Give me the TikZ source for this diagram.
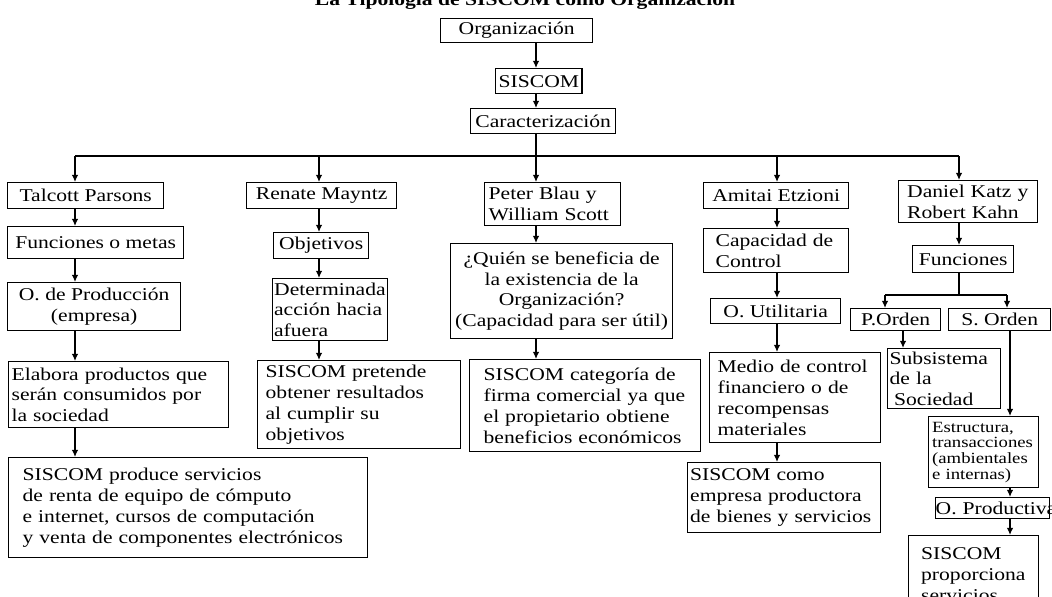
\documentclass[tikz,border=0pt]{standalone}
\usepackage{fontspec}
\setmainfont[FakeStretch=1.2]{Liberation Serif}
\usetikzlibrary{arrows.meta}

\newcommand{\letra}{\fontsize{9}{10.4}\selectfont\hyphenpenalty=10000\exhyphenpenalty=10000}
\newcommand{\letrachica}{\fontsize{7.8}{7.8}\selectfont\hyphenpenalty=10000}

\begin{document}
\begin{tikzpicture}[x=0.5pt,y=-0.5pt,
                every node/.style={font=\letra},
                caja/.style={draw, line width=0.65pt, anchor=north west, inner xsep=1.5pt, inner ysep=1pt, align=center},
                izq/.style={align=left},
                flecha/.style={-{Latex[length=3.6pt,width=3.3pt]}, line width=0.65pt},
                linea/.style={line width=0.65pt}
                ]
                \useasboundingbox (0,0) rectangle (1052,596);
                % titulo (cortado arriba)
                \node[anchor=base, font=\letra\bfseries] (titulo) at (525,5) {La Tipología de SISCOM como Organización};
                % cadena central
                \node[caja, minimum width=76pt, minimum height=12pt] (org) at (440,18) {Organización};
                \node[caja, minimum width=41.5pt, minimum height=12.5pt] (sis) at (495,68) {SISCOM};
                \node[caja, minimum width=72.5pt, minimum height=12.5pt] (car) at (470,108) {Caracterización};
                % autores
                \node[caja, minimum width=78pt, minimum height=13pt] (tal) at (7,182) {Talcott Parsons};
                \node[caja, minimum width=75pt, minimum height=13pt] (ren) at (246,182) {Renate Mayntz};
                \node[caja, izq, text width=64pt, inner xsep=2pt, minimum height=21.5pt] (pet) at (484,182) {Peter Blau y\\William Scott};
                \node[caja, minimum width=72.5pt, minimum height=13pt] (ami) at (703,182) {Amitai Etzioni};
                \node[caja, izq, text width=61pt, inner xsep=4.25pt, minimum height=21pt] (dan) at (898,180) {Daniel Katz y\\Robert Kahn};
                % Talcott Parsons
                \node[caja, minimum width=88pt, minimum height=16pt] (fun1) at (7,226) {Funciones o metas};
                \node[caja, minimum width=86.5pt, minimum height=24pt] (prod) at (7,282) {O. de Producción\\(empresa)};
                \node[caja, izq, text width=107pt, minimum height=33pt] (ela) at (8,361) {Elabora productos que\\serán consumidos por\\la sociedad};
                \node[caja, izq, text width=165.5pt, inner xsep=7pt, minimum height=50pt] (siscp) at (8,457) {SISCOM produce servicios\\de renta de equipo de cómputo\\e internet, cursos de computación\\y venta de componentes electrónicos};
                % Renate Mayntz
                \node[caja, minimum width=47.5pt, minimum height=13pt] (obj) at (273,232) {Objetivos};
                \node[caja, izq, text width=56pt, inner xsep=0.75pt, minimum height=31pt] (det) at (272,278) {Determinada\\acción hacia\\afuera};
                \node[caja, izq, text width=93.5pt, inner xsep=4pt, minimum height=44pt] (pre) at (257,360) {SISCOM pretende\\obtener resultados\\al cumplir su\\objetivos};
                % Peter Blau y William Scott
                \node[caja, minimum width=111pt, minimum height=47.5pt, inner xsep=0.5pt] (qui) at (450,243) {¿Quién se beneficia de\\la existencia de la\\Organización?\\(Capacidad para ser útil)};
                \node[caja, izq, text width=101.5pt, inner xsep=7pt, minimum height=46pt] (cat) at (469,359) {SISCOM categoría de\\firma comercial ya que\\el propietario obtiene\\beneficios económicos};
                % Amitai Etzioni
                \node[caja, izq, text width=60.5pt, inner xsep=6pt, minimum height=22pt] (cap) at (703,228) {Capacidad de\\Control};
                \node[caja, minimum width=65pt, minimum height=12.5pt] (uti) at (710,298) {O. Utilitaria};
                \node[caja, izq, text width=77.5pt, inner xsep=4pt, minimum height=45pt] (med) at (709,352) {Medio de control\\financiero o de\\recompensas\\materiales};
                \node[caja, izq, text width=94pt, inner xsep=1.25pt, minimum height=35pt] (como) at (687,462) {SISCOM como\\empresa productora\\de bienes y servicios};
                % Daniel Katz y Robert Kahn
                \node[caja, minimum width=50.5pt, minimum height=13.5pt] (fun2) at (912,245) {Funciones};
                \node[caja, minimum width=45pt, minimum height=11pt] (pord) at (850,308) {P.Orden};
                \node[caja, minimum width=51pt, minimum height=11pt] (sord) at (948,308) {S. Orden};
                \node[caja, izq, text width=54.5pt, inner xsep=1pt, minimum height=30pt] (sub) at (887,348) {Subsistema\\de la\\\hspace{0.25em}Sociedad};
                \node[caja, izq, font=\letrachica, text width=51.5pt, inner xsep=1.75pt, minimum height=35.5pt] (est) at (928,416) {Estructura,\\transacciones\\(ambientales\\e internas)};
                \node[caja, izq, text width=57pt, inner xsep=0pt, minimum height=10.5pt] (opr) at (935,497) {O.~Productiva};
                \node[caja, izq, text width=52.5pt, inner xsep=6.25pt, minimum height=39pt] (prop) at (908,535) {SISCOM\\proporciona\\servicios};

                % columnas
                \coordinate (k0) at (536,156);
                \coordinate (k1) at (75,156);
                \coordinate (k2) at (319,156);
                \coordinate (k3) at (536,156);
                \coordinate (k4) at (777,156);
                \coordinate (k5) at (959,156);
                \coordinate (rp) at (885,295);
                \coordinate (rs) at (1007,295);
                \coordinate (kp) at (903,330);
                \coordinate (ks) at (1010,330);

                \draw[flecha] (org.south -| k0) -- (sis.north -| k0);
                \draw[flecha] (sis.south -| k0) -- (car.north -| k0);
                \draw[linea] (car.south -| k0) -- (k0);
                \draw[linea] (k1) -- (k5);
                \foreach \k/\n in {k1/tal, k2/ren, k3/pet, k4/ami, k5/dan}
                    \draw[flecha] (\k) -- (\n.north -| \k);
                \foreach \a/\b in {tal/fun1, fun1/prod, prod/ela, ela/siscp}
                    \draw[flecha] (\a.south -| k1) -- (\b.north -| k1);
                \foreach \a/\b in {ren/obj, obj/det, det/pre}
                    \draw[flecha] (\a.south -| k2) -- (\b.north -| k2);
                \foreach \a/\b in {pet/qui, qui/cat}
                    \draw[flecha] (\a.south -| k3) -- (\b.north -| k3);
                \foreach \a/\b in {ami/cap, cap/uti, uti/med, med/como}
                    \draw[flecha] (\a.south -| k4) -- (\b.north -| k4);
                \draw[flecha] (dan.south -| k5) -- (fun2.north -| k5);
                \draw[linea] (fun2.south -| k5) -- (k5 |- rp);
                \draw[linea] (rp) -- (rs);
                \draw[flecha] (rp) -- (pord.north -| rp);
                \draw[flecha] (rs) -- (sord.north -| rs);
                \draw[flecha] (pord.south -| kp) -- (sub.north -| kp);
                \foreach \a/\b in {sord/est, est/opr, opr/prop}
                    \draw[flecha] (\a.south -| ks) -- (\b.north -| ks);
        \end{tikzpicture}
\end{document}
